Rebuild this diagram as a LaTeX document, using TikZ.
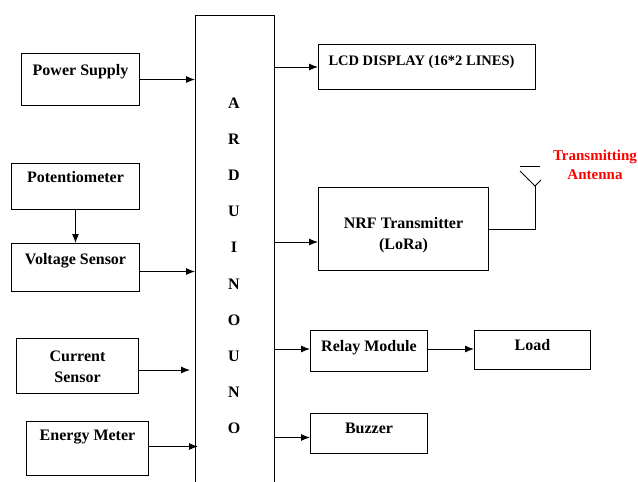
\documentclass[tikz,border=0pt]{standalone}
\usepackage{fontspec}
\setmainfont{Liberation Serif}
\usetikzlibrary{arrows.meta, positioning, calc}

\begin{document}
\begin{tikzpicture}[x=1pt, y=-1pt, line width=1pt,
    >={Latex[length=9pt, width=7pt]},
    box/.style={draw, inner sep=0pt, anchor=north west},
    lbl/.style={font=\fontsize{16}{21}\selectfont\bfseries, inner sep=0pt, align=center, text height=11pt, text depth=3pt},
    lbltwo/.style={font=\fontsize{16}{21}\selectfont\bfseries, inner sep=0pt, align=center}]
    \useasboundingbox (0,0) rectangle (638,482);

    % arduino board, open at the bottom
    \node[minimum width=78, minimum height=467, inner sep=0pt, anchor=north west] (ard) at (195,15) {};
    \draw (ard.south west) -- (ard.north west) -- (ard.north east) -- (ard.south east);
    \foreach \ch [count=\i from 0] in {A,R,D,U,I,N,O,U,N,O}
        \node[lbl] at (234, 104+36.2*\i) {\ch};

    % inputs
    \node[box, minimum width=118, minimum height=52] (ps) at (21,53) {};
    \node[box, minimum width=128, minimum height=46] (pot) at (11,163) {};
    \node[box, minimum width=128, minimum height=48] (vs) at (11,243) {};
    \node[box, minimum width=122, minimum height=55] (cs) at (16,338) {};
    \node[box, minimum width=122, minimum height=54] (em) at (26,421) {};

    \node[lbl] at ([yshift=-18pt]ps.north) {Power Supply};
    \node[lbl] at ([yshift=-15pt]pot.north) {Potentiometer};
    \node[lbl] at ([yshift=-17pt]vs.north) {Voltage Sensor};
    \node[lbltwo] at ([yshift=-1pt]cs.center) {Current\\Sensor};
    \node[lbl] at ([yshift=-15pt]em.north) {Energy Meter};

    \draw[->] (ps.east) -- (ps.east -| ard.west);
    \draw[->] (pot.south) -- (vs.north);
    \draw[->] ([yshift=-4pt]vs.east) -- ([yshift=-4pt]vs.east -| ard.west);
    \draw[->] ([yshift=-4pt]cs.east) -- ([yshift=-4pt, xshift=-5pt]cs.east -| ard.west);
    \draw[->] ([yshift=2pt]em.east) -- ([yshift=2pt, xshift=3pt]em.east -| ard.west);

    % outputs
    \node[box, minimum width=217, minimum height=45] (lcd) at (318,44) {};
    \node[box, minimum width=170, minimum height=83] (nrf) at (318,187) {};
    \node[box, minimum width=117, minimum height=41] (relay) at (310,330) {};
    \node[box, minimum width=116, minimum height=39] (load) at (474,330) {};
    \node[box, minimum width=117, minimum height=40] (buz) at (310,413) {};

    \node[lbl, font=\fontsize{14.5}{19}\selectfont\bfseries, anchor=west] at ([xshift=10pt, yshift=-17pt]lcd.north west) {LCD DISPLAY (16*2 LINES)};
    \node[lbltwo] at ([yshift=-6pt]nrf.center) {NRF Transmitter\\(LoRa)};
    \node[lbl] at ([yshift=-17pt]relay.north) {Relay Module};
    \node[lbl] at ([yshift=-16pt]load.north) {Load};
    \node[lbl] at ([yshift=-16pt]buz.north) {Buzzer};

    \draw[->] (ard.east |- lcd.west) -- (lcd.west);
    \draw[->] ([yshift=-13pt]ard.east |- nrf.west) -- ([yshift=-13pt]nrf.west);
    \draw[->] ([yshift=2pt]ard.east |- relay.west) -- ([yshift=2pt]relay.west);
    \draw[->] ([yshift=2pt]relay.east) -- ([yshift=2pt]relay.east -| load.west);
    \draw[->] ([yshift=-4pt]ard.east |- buz.west) -- ([yshift=-4pt]buz.west);

    % antenna
    \coordinate (ant) at (535,186);
    \draw (nrf.east) -- (nrf.east -| ant) -- (ant);
    \draw (520,166) -- (540,166);
    \draw (520,171) -- (ant) -- (541,180);
    \node[lbltwo, red, font=\fontsize{15}{19}\selectfont\bfseries] at (595,165) {Transmitting\\Antenna};
\end{tikzpicture}
\end{document}
